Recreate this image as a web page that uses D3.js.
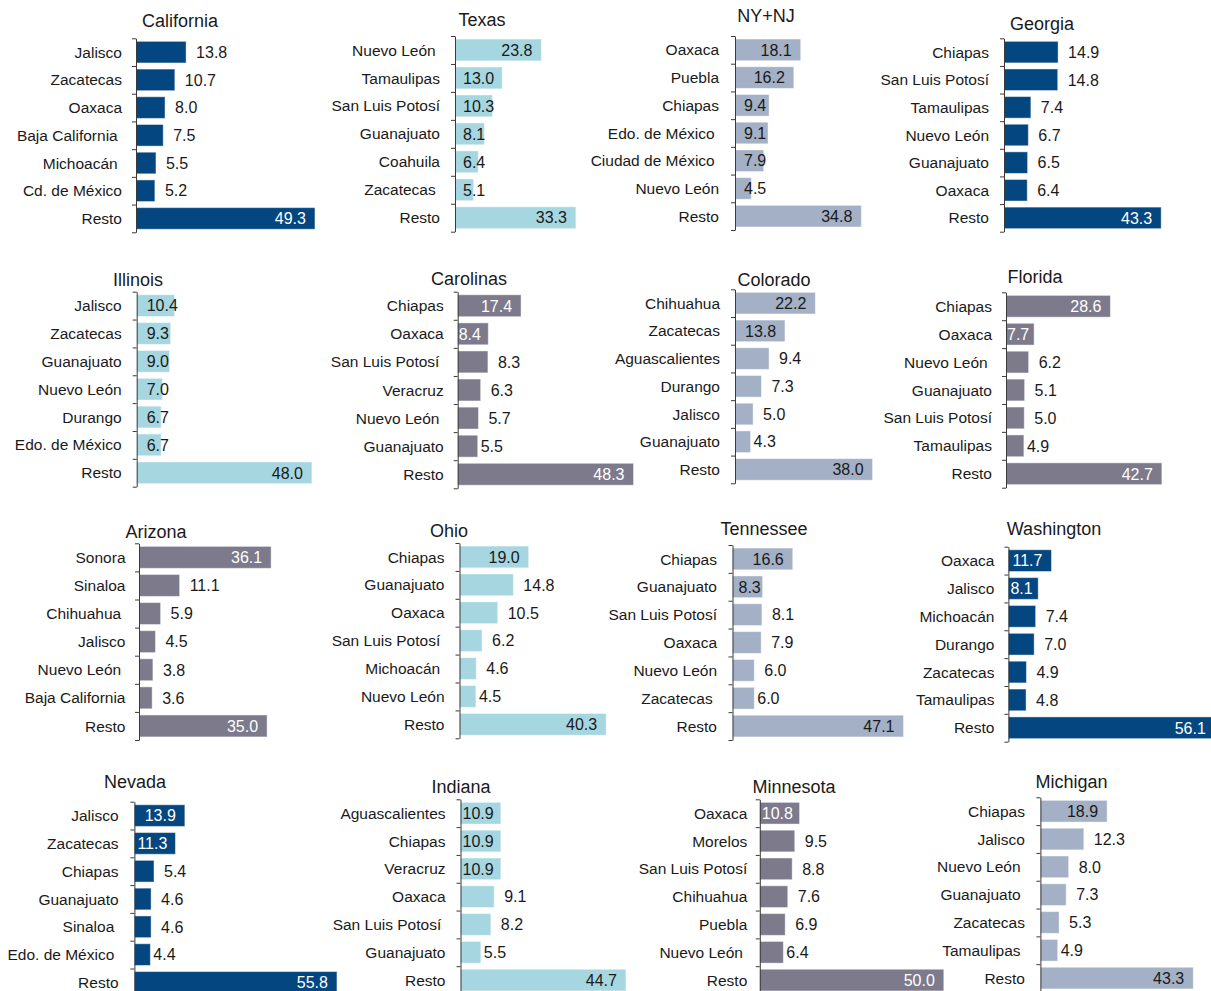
<!DOCTYPE html>
<html>
<head>
<meta charset="utf-8">
<script src="https://cdn.jsdelivr.net/npm/d3@7"></script>
<style>
  html, body { margin: 0; padding: 0; background: #ffffff; }
  svg { display: block; font-family: "Liberation Sans", Arial, Helvetica, sans-serif; }
  text { white-space: pre; }
</style>
</head>
<body>
<svg id="chart" width="1211" height="991"></svg>
<script>
// Share (%) of Mexican-born residents by state of origin, for each US destination
const panelTitles = ["California", "Texas", "NY+NJ", "Georgia",
                     "Illinois", "Carolinas", "Colorado", "Florida",
                     "Arizona", "Ohio", "Tennessee", "Washington",
                     "Nevada", "Indiana", "Minnesota", "Michigan"];

const californiaOrigins = ["Jalisco", "Zacatecas", "Oaxaca", "Baja California ", "Michoacán ", "Cd. de México", "Resto"];
const californiaValues  = [13.8, 10.7, 8.0, 7.5, 5.5, 5.2, 49.3];

const texasOrigins = ["Nuevo León ", "Tamaulipas", "San Luis Potosí", "Guanajuato", "Coahuila", "Zacatecas ", "Resto"];
const texasValues  = [23.8, 13.0, 10.3, 8.1, 6.4, 5.1, 33.3];

const nynjOrigins = ["Oaxaca", "Puebla", "Chiapas", "Edo. de México ", "Ciudad de México ", "Nuevo León", "Resto"];
const nynjValues  = [18.1, 16.2, 9.4, 9.1, 7.9, 4.5, 34.8];

const georgiaOrigins = ["Chiapas", "San Luis Potosí", "Tamaulipas", "Nuevo León", "Guanajuato", "Oaxaca", "Resto"];
const georgiaValues  = [14.9, 14.8, 7.4, 6.7, 6.5, 6.4, 43.3];

const illinoisOrigins = ["Jalisco", "Zacatecas", "Guanajuato", "Nuevo León", "Durango", "Edo. de México", "Resto"];
const illinoisValues  = [10.4, 9.3, 9.0, 7.0, 6.7, 6.7, 48.0];

const carolinasOrigins = ["Chiapas", "Oaxaca", "San Luis Potosí ", "Veracruz", "Nuevo León ", "Guanajuato", "Resto"];
const carolinasValues  = [17.4, 8.4, 8.3, 6.3, 5.7, 5.5, 48.3];

const coloradoOrigins = ["Chihuahua", "Zacatecas", "Aguascalientes", "Durango", "Jalisco", "Guanajuato", "Resto"];
const coloradoValues  = [22.2, 13.8, 9.4, 7.3, 5.0, 4.3, 38.0];

const floridaOrigins = ["Chiapas", "Oaxaca", "Nuevo León ", "Guanajuato", "San Luis Potosí", "Tamaulipas", "Resto"];
const floridaValues  = [28.6, 7.7, 6.2, 5.1, 5.0, 4.9, 42.7];

const arizonaOrigins = ["Sonora", "Sinaloa", "Chihuahua ", "Jalisco", "Nuevo León ", "Baja California", "Resto"];
const arizonaValues  = [36.1, 11.1, 5.9, 4.5, 3.8, 3.6, 35.0];

const ohioOrigins = ["Chiapas", "Guanajuato", "Oaxaca", "San Luis Potosí ", "Michoacán ", "Nuevo León", "Resto"];
const ohioValues  = [19.0, 14.8, 10.5, 6.2, 4.6, 4.5, 40.3];

const tennesseeOrigins = ["Chiapas", "Guanajuato", "San Luis Potosí", "Oaxaca", "Nuevo León", "Zacatecas ", "Resto"];
const tennesseeValues  = [16.6, 8.3, 8.1, 7.9, 6.0, 6.0, 47.1];

const washingtonOrigins = ["Oaxaca", "Jalisco", "Michoacán", "Durango", "Zacatecas", "Tamaulipas", "Resto"];
const washingtonValues  = [11.7, 8.1, 7.4, 7.0, 4.9, 4.8, 56.1];

const nevadaOrigins = ["Jalisco", "Zacatecas", "Chiapas", "Guanajuato", "Sinaloa ", "Edo. de México ", "Resto"];
const nevadaValues  = [13.9, 11.3, 5.4, 4.6, 4.6, 4.4, 55.8];

const indianaOrigins = ["Aguascalientes", "Chiapas", "Veracruz", "Oaxaca", "San Luis Potosí ", "Guanajuato", "Resto"];
const indianaValues  = [10.9, 10.9, 10.9, 9.1, 8.2, 5.5, 44.7];

const minnesotaOrigins = ["Oaxaca", "Morelos", "San Luis Potosí", "Chihuahua", "Puebla", "Nuevo León ", "Resto"];
const minnesotaValues  = [10.8, 9.5, 8.8, 7.6, 6.9, 6.4, 50.0];

const michiganOrigins = ["Chiapas", "Jalisco", "Nuevo León ", "Guanajuato ", "Zacatecas", "Tamaulipas ", "Resto"];
const michiganValues  = [18.9, 12.3, 8.0, 7.3, 5.3, 4.9, 43.3];

const originLists = [californiaOrigins, texasOrigins, nynjOrigins, georgiaOrigins,
                     illinoisOrigins, carolinasOrigins, coloradoOrigins, floridaOrigins,
                     arizonaOrigins, ohioOrigins, tennesseeOrigins, washingtonOrigins,
                     nevadaOrigins, indianaOrigins, minnesotaOrigins, michiganOrigins];
const valueLists = [californiaValues, texasValues, nynjValues, georgiaValues,
                    illinoisValues, carolinasValues, coloradoValues, floridaValues,
                    arizonaValues, ohioValues, tennesseeValues, washingtonValues,
                    nevadaValues, indianaValues, minnesotaValues, michiganValues];

// Palette
const NAVY = "#04467f", CYAN = "#a6d6e0", STEEL = "#a3b0c5", SLATE = "#7c7a8b";
const INK = "#1a1a1a";

// Panel placement. Label modes per bar: i = inside end, o = outside, n = outside tight
const panelLayout = [
  { axisX: 136,    top: 38.3,  bottom: 232.3, k: 3.63, titleX: 180,  titleY: 27,  fill: NAVY,  gap: 14,   clamp: 2,  modes: "ooooooi" },
  { axisX: 455,    top: 36,    bottom: 231.7, k: 3.63, titleX: 482,  titleY: 26,  fill: CYAN,  gap: 15,   clamp: 8,  modes: "iiiiiii" },
  { axisX: 735,    top: 36,    bottom: 230,   k: 3.63, titleX: 766,  titleY: 22,  fill: STEEL, gap: 16,   clamp: 9,  modes: "iiiiiii" },
  { axisX: 1004,   top: 38.3,  bottom: 231.7, k: 3.63, titleX: 1042, titleY: 30,  fill: NAVY,  gap: 15,   clamp: 2,  modes: "ooooooi" },

  { axisX: 136.7,  top: 291.7, bottom: 486.7, k: 3.65, titleX: 138,  titleY: 286, fill: CYAN,  gap: 15,   clamp: 10, modes: "iiiiiii" },
  { axisX: 457.7,  top: 291.7, bottom: 488.3, k: 3.64, titleX: 469,  titleY: 285, fill: SLATE, gap: 14,   clamp: 1,  modes: "iioooni" },
  { axisX: 735,    top: 289.3, bottom: 483.3, k: 3.62, titleX: 774,  titleY: 286, fill: STEEL, gap: 15,   clamp: 10, modes: "iioooni" },
  { axisX: 1006,   top: 292.3, bottom: 487.7, k: 3.65, titleX: 1035, titleY: 283, fill: SLATE, gap: 14,   clamp: 1,  modes: "iioooni" },

  { axisX: 139,    top: 543.3, bottom: 740,   k: 3.66, titleX: 156,  titleY: 538, fill: SLATE, gap: 13.5, clamp: 2,  modes: "ioooooi" },
  { axisX: 459.5,  top: 543,   bottom: 738.3, k: 3.64, titleX: 449,  titleY: 537, fill: CYAN,  gap: 15,   clamp: 9,  modes: "iooooni" },
  { axisX: 732.5,  top: 545,   bottom: 740,   k: 3.63, titleX: 764,  titleY: 535, fill: STEEL, gap: 15.5, clamp: 6,  modes: "iioooni" },
  { axisX: 1008.4, top: 546.7, bottom: 741.7, k: 3.68, titleX: 1054, titleY: 535, fill: NAVY,  gap: 14,   clamp: 2,  modes: "iiooooi" },

  { axisX: 134.4,  top: 801.7, bottom: 996.3, k: 3.63, titleX: 135,  titleY: 788, fill: NAVY,  gap: 15.8, clamp: 3,  modes: "iioooni" },
  { axisX: 460.5,  top: 799.3, bottom: 994,   k: 3.70, titleX: 461,  titleY: 793, fill: CYAN,  gap: 15,   clamp: 2,  modes: "iiiooni" },
  { axisX: 759.8,  top: 799.3, bottom: 994,   k: 3.68, titleX: 794,  titleY: 793, fill: SLATE, gap: 12.5, clamp: 2,  modes: "iooooni" },
  { axisX: 1040.4, top: 797.3, bottom: 992,   k: 3.53, titleX: 1071.5, titleY: 788, fill: STEEL, gap: 15.5, clamp: 9, modes: "iooooni" }
];

const svg = d3.select("#chart");
const fmt = d3.format(".1f");
const darkFills = new Set([NAVY, SLATE]);

panelTitles.forEach((title, p) => {
  const L = panelLayout[p];
  const origins = originLists[p];
  const values = valueLists[p];
  const rows = origins.map((o, i) => ({ origin: o, value: values[i], mode: L.modes[i] }));

  const x = d3.scaleLinear().domain([0, 60]).range([L.axisX, L.axisX + 60 * L.k]);
  const y = d3.scaleBand().domain(origins).range([L.top, L.bottom])
              .paddingInner(0.22).paddingOuter(0.11);
  // Category boundaries for the tick marks between bars
  const yEdge = d3.scaleLinear().domain([0, origins.length]).range([L.top, L.bottom]);

  const g = svg.append("g").attr("class", "panel");

  g.append("text")
    .attr("x", L.titleX).attr("y", L.titleY)
    .attr("text-anchor", "middle")
    .attr("font-size", 18).attr("fill", INK)
    .text(title);

  g.selectAll("rect.bar").data(rows).join("rect")
    .attr("class", "bar")
    .attr("x", x(0))
    .attr("y", d => y(d.origin))
    .attr("width", d => x(d.value) - x(0))
    .attr("height", y.bandwidth())
    .attr("fill", L.fill)
    .attr("stroke", "#ffffff").attr("stroke-opacity", 0.45).attr("stroke-width", 1);

  const axis = d3.axisLeft(yEdge)
    .tickValues(d3.range(origins.length + 1))
    .tickSize(4).tickSizeOuter(0)
    .tickFormat("");
  const ax = g.append("g").attr("transform", `translate(${L.axisX},0)`).call(axis);
  ax.selectAll("path, line").attr("stroke", "#3a3a3a").attr("stroke-width", 1);

  g.selectAll("text.cat").data(rows).join("text")
    .attr("class", "cat")
    .attr("x", L.axisX - L.gap)
    .attr("y", d => y(d.origin) + y.bandwidth() / 2)
    .attr("dy", "0.36em")
    .attr("text-anchor", "end")
    .attr("font-size", 15.5).attr("fill", INK)
    .text(d => d.origin);

  const insideColor = darkFills.has(L.fill) ? "#ffffff" : INK;
  g.selectAll("text.val").data(rows).join("text")
    .attr("class", "val")
    .attr("y", d => y(d.origin) + y.bandwidth() / 2)
    .attr("dy", "0.36em")
    .attr("font-size", 16)
    .attr("fill", d => d.mode === "i" ? insideColor : INK)
    .text(d => fmt(d.value))
    .each(function (d) {
      const t = d3.select(this);
      const w = this.getComputedTextLength();
      const end = x(d.value);
      let left;
      if (d.mode === "i") left = Math.max(end - 9 - w, L.axisX + L.clamp);
      else if (d.mode === "n") left = end + 3;
      else left = end + 10;
      t.attr("x", left);
    });
});
</script>
</body>
</html>
